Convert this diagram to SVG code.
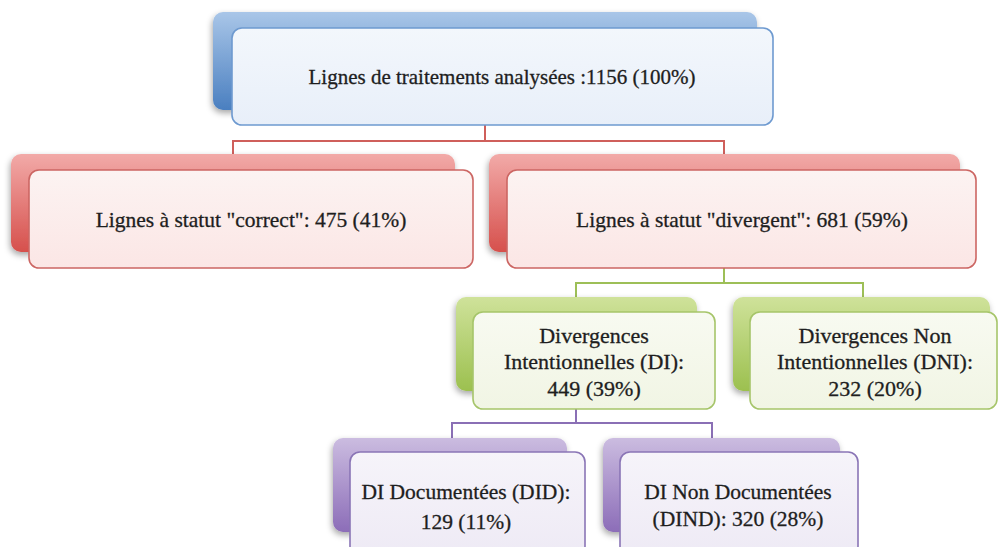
<svg xmlns="http://www.w3.org/2000/svg" width="999" height="547" viewBox="0 0 999 547">
<defs>
<linearGradient id="gBlue" x1="0" y1="0" x2="0" y2="1"><stop offset="0" stop-color="#a9c6e8"/><stop offset="1" stop-color="#4a7fc0"/></linearGradient>
<linearGradient id="gRed" x1="0" y1="0" x2="0" y2="1"><stop offset="0" stop-color="#f2aaa8"/><stop offset="1" stop-color="#d6504c"/></linearGradient>
<linearGradient id="gGreen" x1="0" y1="0" x2="0" y2="1"><stop offset="0" stop-color="#cfe29a"/><stop offset="1" stop-color="#9cc04f"/></linearGradient>
<linearGradient id="gPurple" x1="0" y1="0" x2="0" y2="1"><stop offset="0" stop-color="#cbbce0"/><stop offset="1" stop-color="#8c6db8"/></linearGradient>
<linearGradient id="fBlue" x1="0" y1="0" x2="0" y2="1"><stop offset="0" stop-color="#f3f7fc"/><stop offset="1" stop-color="#e8eff9"/></linearGradient>
<linearGradient id="fRed" x1="0" y1="0" x2="0" y2="1"><stop offset="0" stop-color="#fcf3f2"/><stop offset="1" stop-color="#fbe6e5"/></linearGradient>
<linearGradient id="fGreen" x1="0" y1="0" x2="0" y2="1"><stop offset="0" stop-color="#f8faf1"/><stop offset="1" stop-color="#f1f5e4"/></linearGradient>
<linearGradient id="fPurple" x1="0" y1="0" x2="0" y2="1"><stop offset="0" stop-color="#f6f4fa"/><stop offset="1" stop-color="#eeeaf5"/></linearGradient>
<filter id="sh" x="-10%" y="-10%" width="120%" height="130%"><feDropShadow dx="-1" dy="3" stdDeviation="3" flood-color="#000" flood-opacity="0.35"/></filter>
</defs>
<style>
.t{font-family:"Liberation Serif","Times New Roman",serif;fill:#1e1e1e;stroke:#1e1e1e;stroke-width:0.3;text-anchor:middle}
.front{stroke-width:1.6}
.conn{fill:none;stroke-width:2}
</style>
<g id="connectors">
<path class="conn" stroke="#cf5f5b" d="M485,125V141M233,154V141H724V154"/>
<path class="conn" stroke="#9dbf57" d="M724,268V283M576,297V283H863V297"/>
<path class="conn" stroke="#8a6fb5" d="M576,409V423M452,438V423H712V438"/>
</g>
<g id="n-total">
<rect x="213" y="12" width="544" height="98" rx="10" fill="url(#gBlue)" filter="url(#sh)"/>
<rect class="front" x="232" y="28" width="541" height="97" rx="10" fill="url(#fBlue)" stroke="#6e9ad0"/>
<text class="t" x="502" y="84" font-size="21">Lignes de traitements analysées :1156 (100%)</text>
</g>
<g id="n-correct">
<rect x="11" y="154" width="444" height="98" rx="10" fill="url(#gRed)" filter="url(#sh)"/>
<rect class="front" x="29" y="170" width="444" height="98" rx="10" fill="url(#fRed)" stroke="#cc6663"/>
<text class="t" x="251" y="227" font-size="21.5">Lignes à statut "correct": 475 (41%)</text>
</g>
<g id="n-divergent">
<rect x="489" y="154" width="471" height="98" rx="10" fill="url(#gRed)" filter="url(#sh)"/>
<rect class="front" x="507" y="170" width="469" height="98" rx="10" fill="url(#fRed)" stroke="#cc6663"/>
<text class="t" x="742" y="227" font-size="21.5">Lignes à statut "divergent": 681 (59%)</text>
</g>
<g id="n-di">
<rect x="456" y="297" width="241" height="94" rx="10" fill="url(#gGreen)" filter="url(#sh)"/>
<rect class="front" x="473" y="312" width="242" height="97" rx="10" fill="url(#fGreen)" stroke="#a6c56a"/>
<text class="t" x="594" y="343" font-size="22">Divergences</text>
<text class="t" x="594" y="369" font-size="22">Intentionnelles (DI):</text>
<text class="t" x="594" y="396" font-size="22">449 (39%)</text>
</g>
<g id="n-dni">
<rect x="733" y="297" width="257" height="94" rx="10" fill="url(#gGreen)" filter="url(#sh)"/>
<rect class="front" x="750" y="312" width="247" height="97" rx="10" fill="url(#fGreen)" stroke="#a6c56a"/>
<text class="t" x="875" y="343" font-size="22">Divergences Non</text>
<text class="t" x="875" y="369" font-size="22">Intentionnelles (DNI):</text>
<text class="t" x="875" y="396" font-size="22">232 (20%)</text>
</g>
<g id="n-did">
<rect x="333" y="438" width="234" height="94" rx="10" fill="url(#gPurple)" filter="url(#sh)"/>
<rect class="front" x="350" y="452" width="235" height="104" rx="10" fill="url(#fPurple)" stroke="#8a75b6"/>
<text class="t" x="466" y="499" font-size="21.5">DI Documentées (DID):</text>
<text class="t" x="466" y="529" font-size="21.5">129 (11%)</text>
</g>
<g id="n-dind">
<rect x="603" y="438" width="237" height="94" rx="10" fill="url(#gPurple)" filter="url(#sh)"/>
<rect class="front" x="620" y="452" width="238" height="104" rx="10" fill="url(#fPurple)" stroke="#8a75b6"/>
<text class="t" x="738" y="499" font-size="21.5">DI Non Documentées</text>
<text class="t" x="738" y="526" font-size="21.5">(DIND): 320 (28%)</text>
</g>
</svg>
